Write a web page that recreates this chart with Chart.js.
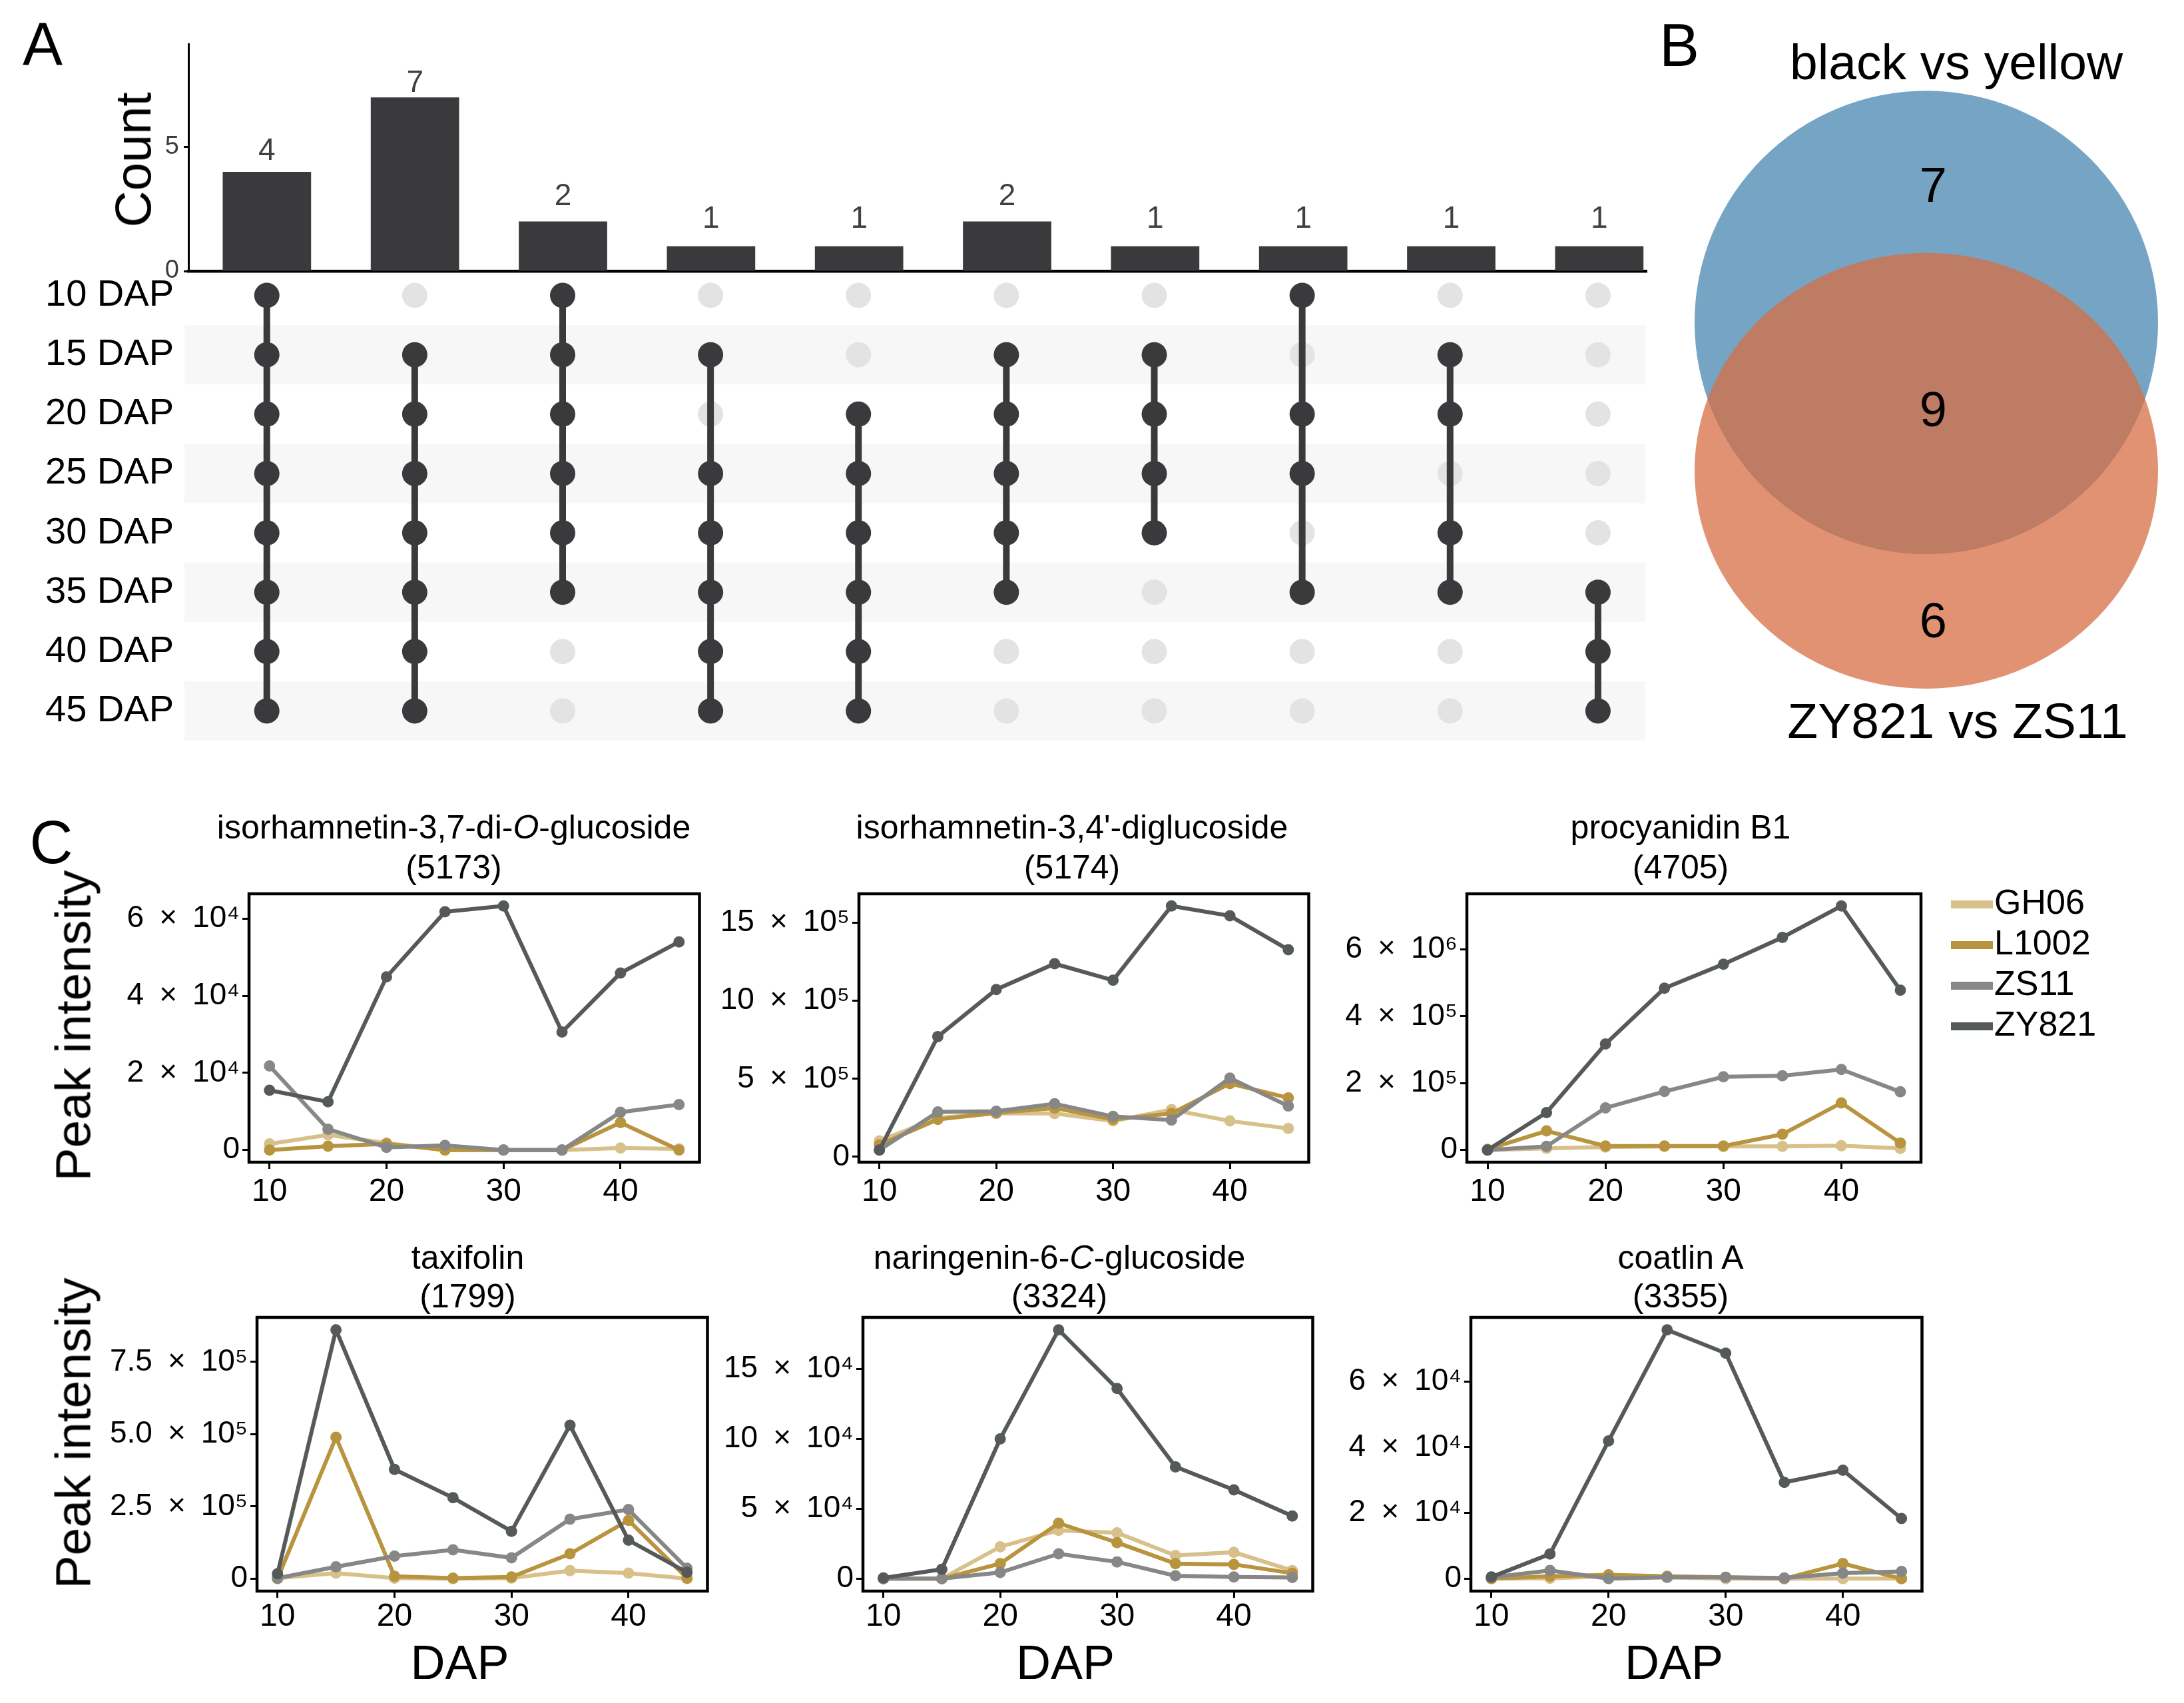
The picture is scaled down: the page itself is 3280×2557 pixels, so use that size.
<!DOCTYPE html>
<html>
<head>
<meta charset="utf-8">
<script src="https://cdn.jsdelivr.net/npm/chart.js"></script>
<style>
  html, body { margin: 0; padding: 0; background: #fff; }
  #fig { position: relative; width: 3280px; height: 2557px; overflow: hidden; background: #fff;
         font-family: 'Liberation Sans', Arial, Helvetica, sans-serif; color: #000; }
  #fig canvas { position: absolute; }
  .txt { position: absolute; transform: translate(-50%, -50%); line-height: 1; white-space: nowrap; }
  .rot { transform: translate(-50%, -50%) rotate(-90deg); }
</style>
</head>
<body>
<div id="fig"></div>
<script>
// ---- Panel A: UpSet of DAP sets ----
var dapLabels = ['10 DAP', '15 DAP', '20 DAP', '25 DAP', '30 DAP', '35 DAP', '40 DAP', '45 DAP'];
var intersectionCounts = [4, 7, 2, 1, 1, 2, 1, 1, 1, 1];
var intersectionSets = [
  [10, 15, 20, 25, 30, 35, 40, 45],
  [15, 20, 25, 30, 35, 40, 45],
  [10, 15, 20, 25, 30, 35],
  [15, 25, 30, 35, 40, 45],
  [20, 25, 30, 35, 40, 45],
  [15, 20, 25, 30, 35],
  [15, 20, 25, 30],
  [10, 20, 25, 35],
  [15, 20, 30, 35],
  [35, 40, 45]
];
var countTicks = [0, 5];

// ---- Panel B: Venn ----
var vennSetNames = ['black vs yellow', 'ZY821 vs ZS11'];
var vennCounts = [7, 9, 6];

// ---- Panel C: peak intensity over DAP ----
var dap = [10, 15, 20, 25, 30, 35, 40, 45];
var dapTicks = [10, 20, 30, 40];
var varieties = ['GH06', 'L1002', 'ZS11', 'ZY821'];

var gh06_5173  = [1600, 3900, 1800, 0, 0, 0, 500, 300];
var l1002_5173 = [0, 1000, 1600, 0, 0, 0, 7100, 0];
var zs11_5173  = [21800, 5400, 700, 1200, 0, 0, 9800, 11800];
var zy821_5173 = [15500, 12500, 44900, 61800, 63300, 30600, 45900, 54000];
var ticks5173 = [0, 20000, 40000, 60000];
var labels5173 = ['0', '2\u2002×\u200210⁴', '4\u2002×\u200210⁴', '6\u2002×\u200210⁴'];

var gh06_5174  = [102000, 250000, 278000, 278000, 230000, 303000, 230000, 182000];
var l1002_5174 = [77000, 240000, 282000, 313000, 240000, 278000, 470000, 378000];
var zs11_5174  = [44000, 288000, 292000, 340000, 259000, 236000, 505000, 326000];
var zy821_5174 = [44000, 771000, 1073000, 1238000, 1132000, 1608000, 1545000, 1328000];
var ticks5174 = [0, 500000, 1000000, 1500000];
var labels5174 = ['0', '5\u2002×\u200210⁵', '10\u2002×\u200210⁵', '15\u2002×\u200210⁵'];

var gh06_4705  = [0, 50000, 90000, 110000, 110000, 110000, 130000, 50000];
var l1002_4705 = [20000, 570000, 120000, 120000, 120000, 470000, 1410000, 210000];
var zs11_4705  = [0, 110000, 1260000, 1750000, 2190000, 2220000, 2410000, 1740000];
var zy821_4705 = [0, 1120000, 3170000, 4840000, 5560000, 6360000, 7300000, 4780000];
var ticks4705 = [0, 2000000, 4000000, 6000000];
var labels4705 = ['0', '2\u2002×\u200210⁵', '4\u2002×\u200210⁵', '6\u2002×\u200210⁶'];

var gh06_1799  = [2000, 19000, 2000, 0, 2000, 28000, 19000, 0];
var l1002_1799 = [0, 489000, 8000, 2000, 6000, 86000, 202000, 2000];
var zs11_1799  = [2000, 41000, 78000, 100000, 72000, 206000, 239000, 36000];
var zy821_1799 = [17000, 861000, 378000, 280000, 164000, 531000, 133000, 22000];
var ticks1799 = [0, 250000, 500000, 750000];
var labels1799 = ['0', '2.5\u2002×\u200210⁵', '5.0\u2002×\u200210⁵', '7.5\u2002×\u200210⁵'];

var gh06_3324  = [0, 0, 22800, 34600, 32800, 16600, 18900, 5800];
var l1002_3324 = [0, 0, 10800, 39700, 25800, 10800, 10200, 3900];
var zs11_3324  = [0, 0, 4400, 17800, 12000, 2100, 1200, 900];
var zy821_3324 = [500, 6700, 100000, 178000, 136000, 80000, 63500, 44800];
var ticks3324 = [0, 50000, 100000, 150000];
var labels3324 = ['0', '5\u2002×\u200210⁴', '10\u2002×\u200210⁴', '15\u2002×\u200210⁴'];

var gh06_3355  = [0, 100, 700, 400, 0, 0, 0, 0];
var l1002_3355 = [0, 700, 1200, 700, 400, 0, 4600, 0];
var zs11_3355  = [400, 2500, 0, 400, 400, 200, 1700, 2200];
var zy821_3355 = [500, 7500, 41900, 75700, 68600, 29300, 33000, 18300];
var ticks3355 = [0, 20000, 40000, 60000];
var labels3355 = ['0', '2\u2002×\u200210⁴', '4\u2002×\u200210⁴', '6\u2002×\u200210⁴'];

// styles
var FONT = "'Liberation Sans', Arial, Helvetica, sans-serif";
var seriesColors = ['#d8c08b', '#b8943f', '#878787', '#56595a'];
var upsetDark = '#3a3a3c';

Chart.defaults.font.family = FONT;
Chart.defaults.color = '#000';
Chart.defaults.animation = false;
Chart.defaults.events = [];
Chart.defaults.plugins.legend.display = false;
Chart.defaults.plugins.tooltip.enabled = false;

var fig = document.getElementById('fig');

function addCanvas(left, top, width, height) {
  var c = document.createElement('canvas');
  c.width = width;
  c.height = height;
  c.style.left = left + 'px';
  c.style.top = top + 'px';
  c.style.width = width + 'px';
  c.style.height = height + 'px';
  fig.appendChild(c);
  return c;
}

function addText(html, x, y, size, rotate) {
  var d = document.createElement('div');
  d.className = rotate ? 'txt rot' : 'txt';
  d.innerHTML = html;
  d.style.left = x + 'px';
  d.style.top = y + 'px';
  d.style.fontSize = size + 'px';
  fig.appendChild(d);
}

function fixedTicks(values) {
  return function (scale) {
    scale.ticks = values.map(function (v) { return {value: v}; });
  };
}

// ---------- plugins ----------
var barValueLabels = {
  id: 'barValueLabels',
  afterDatasetsDraw: function (chart) {
    var ctx = chart.ctx;
    ctx.save();
    ctx.font = '46px ' + FONT;
    ctx.fillStyle = '#404040';
    ctx.textAlign = 'center';
    ctx.textBaseline = 'alphabetic';
    chart.getDatasetMeta(0).data.forEach(function (bar, i) {
      var v = intersectionCounts[i];
      // gap above the bar shrinks a little for taller bars, as in the source
      ctx.fillText(String(v), bar.x, bar.y - (31 - 3.3 * v));
    });
    ctx.restore();
  }
};

var rowBands = {
  id: 'rowBands',
  beforeDatasetsDraw: function (chart) {
    var y = chart.scales.y, area = chart.chartArea, ctx = chart.ctx;
    var step = Math.abs(y.getPixelForValue(1) - y.getPixelForValue(0));
    ctx.save();
    ctx.fillStyle = '#f7f7f7';
    dapLabels.forEach(function (lab, r) {
      if (r % 2 === 1) {
        ctx.fillRect(area.left - 6, y.getPixelForValue(r) - step / 2, area.right - area.left + 6, step);
      }
    });
    ctx.restore();
  }
};

var panelFrame = {
  id: 'panelFrame',
  afterDraw: function (chart) {
    var a = chart.chartArea, ctx = chart.ctx;
    ctx.save();
    ctx.strokeStyle = '#000';
    ctx.lineWidth = 4.5;
    ctx.strokeRect(a.left, a.top, a.right - a.left, a.bottom - a.top);
    ctx.restore();
  }
};

var sideLegend = {
  id: 'sideLegend',
  afterDraw: function (chart) {
    var a = chart.chartArea, ctx = chart.ctx;
    ctx.save();
    ctx.font = '52px ' + FONT;
    ctx.textBaseline = 'middle';
    chart.data.datasets.forEach(function (ds, k) {
      var y = a.top + 16 + k * 61;
      ctx.fillStyle = ds.borderColor;
      ctx.fillRect(a.right + 45, y - 6, 63, 12);
      ctx.fillStyle = '#000';
      ctx.fillText(ds.label, a.right + 110, y);
    });
    ctx.restore();
  }
};

// ---------- Panel A: bars ----------
var columnTicks = intersectionCounts.map(function (v, i) { return i + 1; });
var upsetX = {type: 'linear', min: 0.47, max: 10.32, offset: false, afterBuildTicks: fixedTicks(columnTicks)};

new Chart(addCanvas(0, 0, 2490, 442), {
  type: 'bar',
  data: {
    datasets: [{
      data: intersectionCounts.map(function (v, i) { return {x: i + 1, y: v}; }),
      backgroundColor: upsetDark,
      barPercentage: 0.597,
      categoryPercentage: 1
    }]
  },
  options: {
    responsive: false,
    devicePixelRatio: 1,
    layout: {padding: {top: 66, right: 17, left: 0, bottom: 0}},
    scales: {
      x: Object.assign({}, upsetX, {
        ticks: {display: false},
        grid: {display: false, drawTicks: false},
        border: {display: true, width: 4.4, color: '#000'},
        afterFit: function (s) { s.height = 35; }
      }),
      y: {
        min: 0, max: 9.15, bounds: 'data',
        afterBuildTicks: fixedTicks(countTicks),
        ticks: {font: {size: 38}, color: '#3d3d3d', padding: 7},
        grid: {drawOnChartArea: false, tickLength: 7, tickWidth: 3, color: '#000'},
        border: {display: true, width: 3, color: '#000'},
        afterFit: function (s) { s.width = 283; }
      }
    }
  },
  plugins: [barValueLabels]
});

// ---------- Panel A: membership matrix ----------
var darkDots = [], lightDots = [], links = [];
intersectionSets.forEach(function (set, i) {
  var rows = [];
  dap.forEach(function (d, r) {
    var pt = {x: i + 1, y: dapLabels[r]};
    if (set.indexOf(d) >= 0) { darkDots.push(pt); rows.push(r); } else { lightDots.push(pt); }
  });
  links.push({
    data: [{x: i + 1, y: dapLabels[rows[0]]}, {x: i + 1, y: dapLabels[rows[rows.length - 1]]}],
    showLine: true, borderColor: upsetDark, borderWidth: 10, pointRadius: 0, order: 2
  });
});

new Chart(addCanvas(0, 339, 2490, 833), {
  type: 'scatter',
  data: {
    datasets: [{data: darkDots, pointRadius: 19, backgroundColor: upsetDark, pointBorderWidth: 0, order: 1}]
      .concat(links)
      .concat([{data: lightDots, pointRadius: 19, backgroundColor: '#e3e3e3', pointBorderWidth: 0, order: 3}])
  },
  options: {
    responsive: false,
    devicePixelRatio: 1,
    layout: {padding: {top: 60, right: 17, left: 0, bottom: 60}},
    scales: {
      x: Object.assign({}, upsetX, {display: false}),
      y: {
        type: 'category', labels: dapLabels, offset: true,
        grid: {display: false, drawTicks: false},
        border: {display: false},
        ticks: {font: {size: 56}, color: '#000', padding: 22, autoSkip: false},
        afterFit: function (s) { s.width = 283; }
      }
    }
  },
  plugins: [rowBands]
});

// ---------- Panel B: Venn ----------
var vennShapes = [
  {cx: 0, cy: 0.32, rx: 1, ry: 1, fill: '#76a4c5'},
  {cx: 0, cy: -0.32, rx: 1, ry: 0.94, fill: 'rgba(214, 112, 70, 0.76)'}
];
var vennLabelAnchors = [{x: 0.03, y: 0.90}, {x: 0.03, y: -0.07}, {x: 0.03, y: -0.98}];

var vennDraw = {
  id: 'vennDraw',
  beforeDatasetsDraw: function (chart) {
    var sx = chart.scales.x, sy = chart.scales.y, ctx = chart.ctx;
    ctx.save();
    vennShapes.forEach(function (s) {
      var cx = sx.getPixelForValue(s.cx), cy = sy.getPixelForValue(s.cy);
      var rx = sx.getPixelForValue(s.cx + s.rx) - cx;
      var ry = cy - sy.getPixelForValue(s.cy + s.ry);
      ctx.beginPath();
      ctx.ellipse(cx, cy, rx, ry, 0, 0, Math.PI * 2);
      ctx.fillStyle = s.fill;
      ctx.fill();
    });
    ctx.restore();
  },
  afterDatasetsDraw: function (chart) {
    var ctx = chart.ctx;
    ctx.save();
    ctx.font = '74px ' + FONT;
    ctx.fillStyle = '#000';
    ctx.textAlign = 'center';
    ctx.textBaseline = 'middle';
    chart.getDatasetMeta(0).data.forEach(function (pt, i) {
      ctx.fillText(String(vennCounts[i]), pt.x, pt.y);
    });
    ctx.restore();
  }
};

new Chart(addCanvas(2506, 20, 774, 1151), {
  type: 'scatter',
  data: {datasets: [{data: vennLabelAnchors, pointRadius: 0}]},
  options: {
    responsive: false,
    devicePixelRatio: 1,
    layout: {padding: 0},
    scales: {
      x: {type: 'linear', min: -1.112, max: 1.112, display: false},
      y: {type: 'linear', min: -1.654, max: 1.654, display: false}
    }
  },
  plugins: [vennDraw]
});

// ---------- Panel C: six line charts ----------
var panels = [
  {title: 'isorhamnetin-3,7-di-<i>O</i>-glucoside', id: '(5173)', series: [gh06_5173, l1002_5173, zs11_5173, zy821_5173],
   ticks: ticks5173, labels: labels5173, box: [374, 1342, 1055, 1745], xPad: 6, titleY: [1242, 1302], titleDx: -33},
  {title: "isorhamnetin-3,4'-diglucoside", id: '(5174)', series: [gh06_5174, l1002_5174, zs11_5174, zy821_5174],
   ticks: ticks5174, labels: labels5174, box: [1290, 1342, 1970, 1745], xPad: 6, titleY: [1242, 1302], titleDx: -20},
  {title: 'procyanidin B1', id: '(4705)', series: [gh06_4705, l1002_4705, zs11_4705, zy821_4705],
   ticks: ticks4705, labels: labels4705, box: [2203, 1342, 2885, 1745], xPad: 6, titleY: [1242, 1302], titleDx: -20, legend: true},
  {title: 'taxifolin', id: '(1799)', series: [gh06_1799, l1002_1799, zs11_1799, zy821_1799],
   ticks: ticks1799, labels: labels1799, box: [386, 1978, 1067, 2389], xPad: 0, titleY: [1888, 1946], titleDx: -24, dap: true},
  {title: 'naringenin-6-<i>C</i>-glucoside', id: '(3324)', series: [gh06_3324, l1002_3324, zs11_3324, zy821_3324],
   ticks: ticks3324, labels: labels3324, box: [1296, 1978, 1976, 2389], xPad: 0, titleY: [1888, 1946], titleDx: -45, dap: true},
  {title: 'coatlin A', id: '(3355)', series: [gh06_3355, l1002_3355, zs11_3355, zy821_3355],
   ticks: ticks3355, labels: labels3355, box: [2209, 1978, 2891, 2389], xPad: 0, titleY: [1888, 1946], titleDx: -26, dap: true}
];

function peakChart(p) {
  var left = p.box[0], top = p.box[1], right = p.box[2], bottom = p.box[3];
  var wy = 250, hx = 100, padTop = 40;
  var padRight = p.legend ? 3280 - right : 4;
  var canvas = addCanvas(left - wy, top - padTop, wy + (right - left) + padRight, padTop + (bottom - top) + hx);

  // ggplot-like 5% expansion of the data range
  var all = [].concat.apply([], p.series);
  var lo = Math.min.apply(null, all), hi = Math.max.apply(null, all);
  var pad = (hi - lo) * 0.05;

  new Chart(canvas, {
    type: 'line',
    data: {
      datasets: varieties.map(function (name, k) {
        return {
          label: name,
          data: dap.map(function (d, i) { return {x: d, y: p.series[k][i]}; }),
          borderColor: seriesColors[k],
          backgroundColor: seriesColors[k],
          borderWidth: 6,
          pointRadius: 8.5,
          pointBorderWidth: 0,
          tension: 0,
          order: varieties.length - k
        };
      })
    },
    options: {
      responsive: false,
      devicePixelRatio: 1,
      layout: {padding: {top: padTop, right: padRight, left: 0, bottom: 0}},
      scales: {
        x: {
          type: 'linear', min: 8.25, max: 46.75, bounds: 'data',
          afterBuildTicks: fixedTicks(dapTicks),
          ticks: {font: {size: 48}, color: '#000', padding: p.xPad, maxRotation: 0},
          grid: {drawOnChartArea: false, tickLength: 10, tickWidth: 3, color: '#000'},
          border: {display: false},
          afterFit: function (s) { s.height = hx; }
        },
        y: {
          type: 'linear', min: lo - pad, max: hi + pad, bounds: 'data',
          afterBuildTicks: fixedTicks(p.ticks),
          ticks: {
            font: {size: 46}, color: '#000', padding: 4,
            callback: function (v, i) { return p.labels[i]; }
          },
          grid: {drawOnChartArea: false, tickLength: 10, tickWidth: 3, color: '#000'},
          border: {display: false},
          afterFit: function (s) { s.width = wy; }
        }
      }
    },
    plugins: p.legend ? [panelFrame, sideLegend] : [panelFrame]
  });

  var cx = (left + right) / 2;
  addText(p.title, cx + p.titleDx, p.titleY[0], 50);
  addText(p.id, cx + p.titleDx, p.titleY[1], 50);
  if (p.dap) addText('DAP', cx - 36, 2496, 72);
}

panels.forEach(peakChart);

// ---------- free text ----------
addText('A', 64, 66, 90);
addText('B', 2522, 68, 90);
addText('C', 77, 1265, 90);
addText('Count', 200, 240, 76, true);
addText(vennSetNames[0], 2938, 93, 75);
addText(vennSetNames[1], 2940, 1082, 75);
addText('Peak intensity', 110, 1540, 75, true);
addText('Peak intensity', 110, 2152, 75, true);
</script>
</body>
</html>
